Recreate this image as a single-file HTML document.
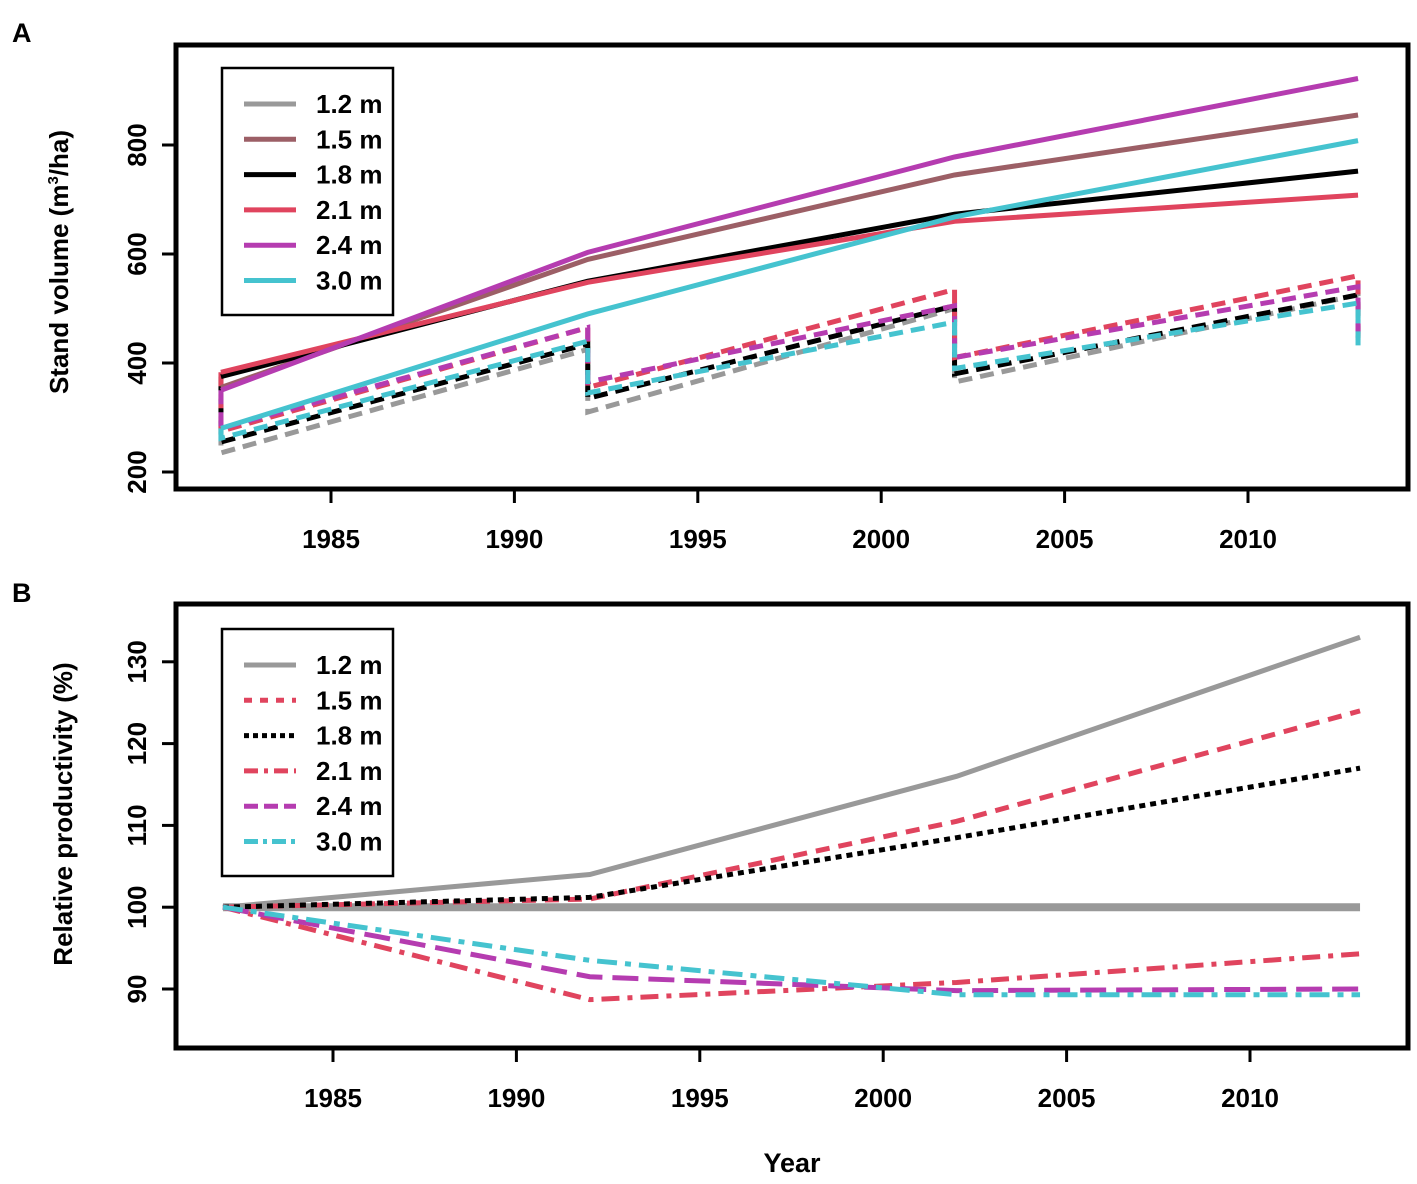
<!DOCTYPE html>
<html><head><meta charset="utf-8"><style>
body{margin:0;background:#fff;}
svg text{font-family:"Liberation Sans",Arial,sans-serif;font-weight:bold;fill:#000;}
</style></head><body>
<svg id="c" width="1417" height="1179">
<text x="12" y="42" font-size="27">A</text>
<text x="12" y="602" font-size="27">B</text>
<text x="792" y="1172" font-size="27" text-anchor="middle">Year</text>
<text transform="translate(68,262) rotate(-90)" font-size="26" text-anchor="middle">Stand volume (m<tspan font-size="15" dy="-10">3</tspan><tspan dy="10">/ha)</tspan></text>
<text transform="translate(72,814) rotate(-90)" font-size="26" text-anchor="middle">Relative productivity (%)</text>
<g id="ga"></g><g id="gb"></g>
</svg>
<script>
const years=[1982,1992,2002,2013];
const xTicks=[1985,1990,1995,2000,2005,2010];
const yTicksA=[200,400,600,800];
const yTicksB=[90,100,110,120,130];
const seriesNames=["1.2 m","1.5 m","1.8 m","2.1 m","2.4 m","3.0 m"];
const colors=["#999999","#9c5f66","#000000","#e0445e","#b53cb0","#45c3cf"];
const solid15=[355,590,745,855];
const solid18=[375,550,673,752];
const solid21=[383,548,660,708];
const solid24=[350,603,778,922];
const solid30=[280,490,668,808];
const after12=[235,310,365,430]; const before12=[425,500,525];
const after18=[255,335,380,440]; const before18=[435,505,525];
const after21=[275,355,410,450]; const before21=[465,535,560];
const after24=[280,365,410,445]; const before24=[465,505,540];
const after30=[262,345,390,430]; const before30=[440,475,510];
const rel12=[100,104,116,133];
const rel15=[100,101,110.5,124];
const rel18=[100,101.2,108.5,117];
const rel21=[100,88.7,90.8,94.3];
const rel24=[100,91.5,89.8,90];
const rel30=[100,93.5,89.3,89.3];
const refLine=[100,100,100,100];

const NS="http://www.w3.org/2000/svg";
function mk(p,t,a){const e=document.createElementNS(NS,t);for(const k in a)e.setAttribute(k,a[k]);p.appendChild(e);return e;}
function panel(g,top,xA,xB,yA,yB,yTicks){
  const X=y=>xA+(y-1985)*xB; const Y=v=>yA-(v-yB[0])*yB[1];
  const box=mk(g,'rect',{x:176,y:top,width:1232,height:444,fill:'none',stroke:'#000','stroke-width':5});
  
  
  xTicks.forEach(t=>{
    const l=mk(g,'line',{x1:X(t),x2:X(t),y1:top+444,y2:top+458,stroke:'#000','stroke-width':3});
    
    
    const tx=mk(g,'text',{x:X(t),y:top+503,'font-size':26,'text-anchor':'middle'});tx.textContent=t;
    
    
  });
  yTicks.forEach(t=>{
    const l=mk(g,'line',{x1:162,x2:176,y1:Y(t),y2:Y(t),stroke:'#000','stroke-width':3});
    
    
    const tx=mk(g,'text',{transform:`translate(146,${Y(t)}) rotate(-90)`,'font-size':26,'text-anchor':'middle'});tx.textContent=t;
    
    
  });
  return {X,Y};
}
function path(g,pts,col,dash,w,name){
  const p=mk(g,'polyline',{points:pts.map(q=>q.join(',')).join(' '),fill:'none',stroke:col,'stroke-width':w||5,'stroke-dasharray':dash||'none'});
  
  
}
function legend(g,top,dashes){
  const r=mk(g,'rect',{x:222,y:top,width:171,height:247,fill:'#fff',stroke:'#000','stroke-width':2.5});
  
  
  seriesNames.forEach((n,i)=>{
    const y=top+36+i*35.3;
    const l=mk(g,'line',{x1:244,x2:296,y1:y,y2:y,stroke:dashes[i][0],'stroke-width':5,'stroke-dasharray':dashes[i][1]});
    
    
    const t=mk(g,'text',{x:316,y:y+9,'font-size':26});t.textContent=n;
    
    
  });
}
const ga=document.getElementById('ga');
const A=panel(ga,45,331,36.68,472,[200,0.545],yTicksA);
const solids=[[solid15,1],[solid18,2],[solid21,3],[solid24,4],[solid30,5]];
const thin=[[after12,before12,0,solid15],[after18,before18,2,solid18],[after21,before21,3,solid21],[after24,before24,4,solid24],[after30,before30,5,solid30]];
thin.forEach(([af,bf,ci,s])=>{
  const pts=[[A.X(years[0]),A.Y(s[0])],[A.X(years[0]),A.Y(af[0])]];
  for(let i=1;i<years.length;i++){pts.push([A.X(years[i]),A.Y(bf[i-1])]);pts.push([A.X(years[i]),A.Y(af[i])]);}
  path(ga,pts,colors[ci],'14,8',5,'thinned-line-'+seriesNames[ci].replace(' ','').replace('.','-'));
});
solids.forEach(([s,ci])=>path(ga,years.map((y,i)=>[A.X(y),A.Y(s[i])]),colors[ci],null,5,'unthinned-line-'+seriesNames[ci].replace(' ','').replace('.','-')));
legend(ga,68,colors.map(c=>[c,'none']));
const gb=document.getElementById('gb');
const B=panel(gb,604,333,36.68,989,[90,8.18],yTicksB);
path(gb,years.map((y,i)=>[B.X(y),B.Y(refLine[i])]),'#999',null,8,'reference-line');
const bSeries=[[rel12,0,'none'],[rel15,3,'14,9'],[rel18,2,'6,5'],[rel21,3,'18,8,5,8'],[rel24,4,'26,10'],[rel30,5,'20,8,6,8']];
bSeries.forEach(([s,ci,d],k)=>path(gb,years.map((y,i)=>[B.X(y),B.Y(s[i])]),colors[ci],d,5,'productivity-line-'+seriesNames[k].replace(' ','').replace('.','-')));
legend(gb,629,[['#999','none'],['#e0445e','8,8'],['#000','5,4'],['#e0445e','14,6,4,6'],['#b53cb0','14,6'],['#45c3cf','14,5,4,5']]);
</script>
</body></html>
